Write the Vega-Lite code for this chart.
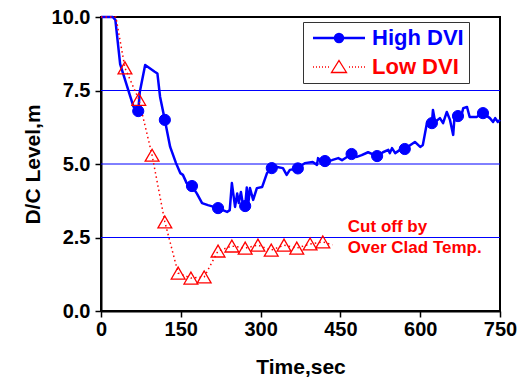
{
  "$schema": "https://vega.github.io/schema/vega-lite/v6.json",
  "width": 399,
  "height": 294,
  "autosize": {"type": "none"},
  "padding": {"left": 101, "top": 17, "right": 22, "bottom": 68},
  "background": "white",
  "config": {
    "font": "Liberation Sans",
    "view": {"stroke": "black", "strokeWidth": 2},
    "axis": {
      "grid": false,
      "domainColor": "black",
      "domainWidth": 2,
      "tickColor": "black",
      "tickWidth": 1.5,
      "labelFont": "Liberation Sans",
      "labelFontSize": 20,
      "labelFontWeight": "bold",
      "labelColor": "black",
      "titleFont": "Liberation Sans",
      "titleFontSize": 21,
      "titleFontWeight": "bold",
      "titleColor": "black"
    }
  },
  "datasets": {
    "levels": [{"level": 2.5}, {"level": 5.0}, {"level": 7.5}],
    "high": [
      {"t": 0, "v": 10}, {"t": 22, "v": 10}, {"t": 27, "v": 9.9}, {"t": 36, "v": 8.4}, {"t": 61, "v": 6.95},
      {"t": 70, "v": 6.8}, {"t": 73, "v": 7.46}, {"t": 83, "v": 8.37}, {"t": 101, "v": 8.14}, {"t": 106, "v": 8.08},
      {"t": 111, "v": 7.29}, {"t": 120, "v": 6.5}, {"t": 130, "v": 5.58}, {"t": 141, "v": 5.03}, {"t": 149, "v": 4.69},
      {"t": 154, "v": 4.63}, {"t": 161, "v": 4.35}, {"t": 171, "v": 4.25}, {"t": 180, "v": 4.0}, {"t": 190, "v": 3.67},
      {"t": 201, "v": 3.6}, {"t": 220, "v": 3.5}, {"t": 237, "v": 3.37}, {"t": 242, "v": 3.43}, {"t": 246, "v": 4.35},
      {"t": 252, "v": 3.54}, {"t": 256, "v": 4.0}, {"t": 259, "v": 3.67}, {"t": 263, "v": 4.05}, {"t": 267, "v": 3.6},
      {"t": 271, "v": 3.57}, {"t": 274, "v": 4.2}, {"t": 277, "v": 3.67}, {"t": 280, "v": 4.18}, {"t": 286, "v": 3.78},
      {"t": 293, "v": 4.18}, {"t": 303, "v": 4.22}, {"t": 312, "v": 4.69}, {"t": 321, "v": 4.86}, {"t": 331, "v": 4.9},
      {"t": 342, "v": 4.86}, {"t": 349, "v": 4.63}, {"t": 355, "v": 4.8}, {"t": 370, "v": 4.85}, {"t": 383, "v": 5.03},
      {"t": 398, "v": 5.07}, {"t": 406, "v": 4.97}, {"t": 408, "v": 5.2}, {"t": 415, "v": 5.05}, {"t": 421, "v": 5.1},
      {"t": 434, "v": 5.13}, {"t": 446, "v": 5.2}, {"t": 453, "v": 5.13}, {"t": 471, "v": 5.34}, {"t": 481, "v": 5.24},
      {"t": 490, "v": 5.3}, {"t": 502, "v": 5.4}, {"t": 519, "v": 5.27}, {"t": 530, "v": 5.4}, {"t": 540, "v": 5.48},
      {"t": 543, "v": 5.37}, {"t": 547, "v": 5.54}, {"t": 553, "v": 5.37}, {"t": 562, "v": 5.48}, {"t": 571, "v": 5.51},
      {"t": 581, "v": 5.64}, {"t": 590, "v": 5.75}, {"t": 600, "v": 5.58}, {"t": 605, "v": 5.65}, {"t": 613, "v": 6.43},
      {"t": 622, "v": 6.39}, {"t": 624, "v": 6.84}, {"t": 628, "v": 6.43}, {"t": 637, "v": 6.56}, {"t": 643, "v": 6.39},
      {"t": 650, "v": 6.77}, {"t": 656, "v": 6.5}, {"t": 662, "v": 5.99}, {"t": 665, "v": 6.73}, {"t": 671, "v": 6.63},
      {"t": 676, "v": 6.56}, {"t": 681, "v": 6.9}, {"t": 688, "v": 6.94}, {"t": 693, "v": 6.6}, {"t": 706, "v": 6.6},
      {"t": 718, "v": 6.73}, {"t": 731, "v": 6.56}, {"t": 737, "v": 6.43}, {"t": 741, "v": 6.56}, {"t": 746, "v": 6.43},
      {"t": 750, "v": 6.5}
    ],
    "low": [
      {"t": 0, "v": 10}, {"t": 28, "v": 10}, {"t": 45, "v": 8.27}, {"t": 71, "v": 7.2}, {"t": 96, "v": 5.3},
      {"t": 120, "v": 3.03}, {"t": 145, "v": 1.29}, {"t": 169, "v": 1.12}, {"t": 194, "v": 1.16}, {"t": 220, "v": 2.04},
      {"t": 246, "v": 2.21}, {"t": 271, "v": 2.14}, {"t": 295, "v": 2.24}, {"t": 320, "v": 2.07}, {"t": 344, "v": 2.24},
      {"t": 368, "v": 2.14}, {"t": 393, "v": 2.28}, {"t": 417, "v": 2.35}, {"t": 435, "v": 2.25}
    ],
    "markers": [
      {"series": "High DVI", "t": 70, "v": 6.8}, {"series": "High DVI", "t": 120, "v": 6.5},
      {"series": "High DVI", "t": 171, "v": 4.25}, {"series": "High DVI", "t": 220, "v": 3.5},
      {"series": "High DVI", "t": 271, "v": 3.57}, {"series": "High DVI", "t": 321, "v": 4.86},
      {"series": "High DVI", "t": 370, "v": 4.85}, {"series": "High DVI", "t": 421, "v": 5.1},
      {"series": "High DVI", "t": 471, "v": 5.34}, {"series": "High DVI", "t": 519, "v": 5.27},
      {"series": "High DVI", "t": 571, "v": 5.51}, {"series": "High DVI", "t": 622, "v": 6.39},
      {"series": "High DVI", "t": 671, "v": 6.63}, {"series": "High DVI", "t": 718, "v": 6.73},
      {"series": "Low DVI", "t": 45, "v": 8.27}, {"series": "Low DVI", "t": 71, "v": 7.2},
      {"series": "Low DVI", "t": 96, "v": 5.3}, {"series": "Low DVI", "t": 120, "v": 3.03},
      {"series": "Low DVI", "t": 145, "v": 1.29}, {"series": "Low DVI", "t": 169, "v": 1.12},
      {"series": "Low DVI", "t": 194, "v": 1.16}, {"series": "Low DVI", "t": 220, "v": 2.04},
      {"series": "Low DVI", "t": 246, "v": 2.21}, {"series": "Low DVI", "t": 271, "v": 2.14},
      {"series": "Low DVI", "t": 295, "v": 2.24}, {"series": "Low DVI", "t": 320, "v": 2.07},
      {"series": "Low DVI", "t": 344, "v": 2.24}, {"series": "Low DVI", "t": 368, "v": 2.14},
      {"series": "Low DVI", "t": 393, "v": 2.28}, {"series": "Low DVI", "t": 417, "v": 2.35}
    ],
    "notes": [
      {"t": 464, "v": 2.86, "note": "Cut off by"},
      {"t": 464, "v": 2.14, "note": "Over Clad Temp."}
    ]
  },
  "layer": [
    {
      "data": {"name": "levels"},
      "mark": {"type": "rule", "color": "#0000ff", "strokeWidth": 1},
      "encoding": {
        "y": {"field": "level", "type": "quantitative", "scale": {"domain": [0, 10], "nice": false}}
      }
    },
    {
      "data": {"name": "high"},
      "mark": {"type": "line", "color": "#0000ff", "strokeWidth": 2.5, "strokeJoin": "round"},
      "encoding": {
        "x": {
          "field": "t", "type": "quantitative",
          "scale": {"domain": [0, 750], "nice": false},
          "axis": {
            "title": "Time,sec",
            "values": [0, 75, 150, 225, 300, 375, 450, 525, 600, 675, 750],
            "labelExpr": "datum.value % 150 === 0 ? datum.label : ''",
            "tickSize": {"condition": {"test": "datum.value % 150 === 0", "value": 6}, "value": 3},
            "labelPadding": 2,
            "labelFlush": false,
            "labelOverlap": false,
            "titlePadding": 17
          }
        },
        "y": {
          "field": "v", "type": "quantitative",
          "scale": {"domain": [0, 10], "nice": false},
          "axis": {
            "title": "D/C Level,m",
            "values": [0, 1.25, 2.5, 3.75, 5, 6.25, 7.5, 8.75, 10],
            "labelExpr": "datum.value % 2.5 === 0 ? format(datum.value, '.1f') : ''",
            "tickSize": {"condition": {"test": "datum.value % 2.5 === 0", "value": 6}, "value": 3},
            "labelPadding": 5,
            "labelFlush": false,
            "labelOverlap": false,
            "titlePadding": 8
          }
        }
      }
    },
    {
      "data": {"name": "low"},
      "mark": {"type": "line", "color": "#ff0000", "strokeWidth": 1.5, "strokeDash": [1.5, 3]},
      "encoding": {
        "x": {"field": "t", "type": "quantitative"},
        "y": {"field": "v", "type": "quantitative"}
      }
    },
    {
      "data": {"name": "markers"},
      "mark": {"type": "point", "opacity": 1},
      "encoding": {
        "x": {"field": "t", "type": "quantitative"},
        "y": {"field": "v", "type": "quantitative"},
        "stroke": {
          "condition": {"test": "datum.series === 'High DVI'", "value": "#0000ff"},
          "value": "#ff0000"
        },
        "fill": {
          "condition": {"test": "datum.series === 'High DVI'", "value": "#0000ff"},
          "value": "transparent"
        },
        "shape": {
          "condition": {"test": "datum.series === 'High DVI'", "value": "circle"},
          "value": "triangle-up"
        },
        "size": {
          "condition": {"test": "datum.series === 'High DVI'", "value": 125},
          "value": 190
        },
        "strokeWidth": {
          "condition": {"test": "datum.series === 'High DVI'", "value": 1},
          "value": 1.3
        }
      }
    },
    {
      "data": {"name": "markers"},
      "mark": {"type": "point", "opacity": 0},
      "encoding": {
        "x": {"field": "t", "type": "quantitative"},
        "y": {"field": "v", "type": "quantitative"},
        "stroke": {
          "field": "series", "type": "nominal",
          "scale": {"domain": ["High DVI", "Low DVI"], "range": ["#0000ff", "#ff0000"]},
          "legend": {
            "orient": "none",
            "legendX": 202,
            "legendY": 5,
            "title": null,
            "strokeColor": "#333333",
            "fillColor": "white",
            "padding": 5,
            "symbolSize": 100,
            "symbolOpacity": 1,
            "symbolOffset": 20,
            "labelOffset": 22,
            "rowPadding": 7,
            "labelFont": "Liberation Sans",
            "labelFontSize": 22,
            "labelFontWeight": "bold",
            "labelLimit": 300,
            "labelColor": {"expr": "datum.value === 'High DVI' ? '#0000ff' : '#ff0000'"}
          }
        },
        "fill": {
          "field": "series", "type": "nominal",
          "scale": {"domain": ["High DVI", "Low DVI"], "range": ["#0000ff", "white"]}
        },
        "shape": {
          "field": "series", "type": "nominal",
          "scale": {
            "domain": ["High DVI", "Low DVI"],
            "range": [
              "M-5.2,0H5.2M0.8,0A0.8,0.8 0 1,1 -0.8,0A0.8,0.8 0 1,1 0.8,0M0.45,0A0.45,0.45 0 1,1 -0.45,0A0.45,0.45 0 1,1 0.45,0M0.15,0A0.15,0.15 0 1,1 -0.15,0A0.15,0.15 0 1,1 0.15,0",
              "M-5.2,0h0.2M-4.6,0h0.2M-4,0h0.2M-3.4,0h0.2M-2.8,0h0.2M-2.2,0h0.2M2,0h0.2M2.6,0h0.2M3.2,0h0.2M3.8,0h0.2M4.4,0h0.2M5,0h0.2M0,-1.3L1.5,1.1L-1.5,1.1Z"
            ]
          }
        },
        "strokeWidth": {
          "field": "series", "type": "nominal",
          "scale": {"domain": ["High DVI", "Low DVI"], "range": [2.5, 1.3]}
        }
      }
    },
    {
      "data": {"name": "notes"},
      "mark": {"type": "text", "align": "left", "baseline": "middle", "color": "#ff0000", "font": "Liberation Sans", "fontSize": 17, "fontWeight": "bold"},
      "encoding": {
        "x": {"field": "t", "type": "quantitative"},
        "y": {"field": "v", "type": "quantitative"},
        "text": {"field": "note", "type": "nominal"}
      }
    }
  ]
}
